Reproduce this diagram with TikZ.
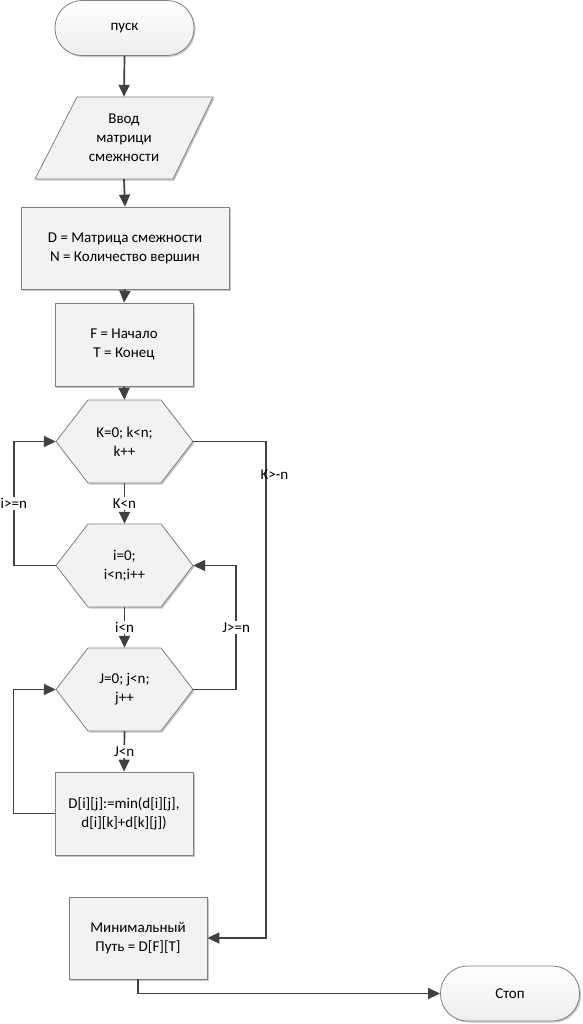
\documentclass[tikz,border=0pt]{standalone}
\usepackage{fontspec}
\setmainfont{Carlito}
\usetikzlibrary{arrows.meta,shadows}
\definecolor{edgecol}{HTML}{808080}
\definecolor{linecol}{HTML}{404040}
\definecolor{boxfill}{HTML}{F2F2F2}
\newcommand\hexshape[2]{%
  \draw[shapestyle] (#1-68.5,#2) -- (#1-36.5,#2-41.5) -- (#1+36.5,#2-41.5) -- (#1+68.5,#2) -- (#1+36.5,#2+41.5) -- (#1-36.5,#2+41.5) -- cycle;}
\begin{document}
\begin{tikzpicture}[x=1bp,y=-1bp,
  every node/.style={font=\fontsize{15bp}{19bp}\selectfont, text=black},
  shd/.style={drop shadow={shadow xshift=1.5bp, shadow yshift=-1.5bp, opacity=0.22, fill=black}},
  shapestyle/.style={draw=edgecol, line width=0.8bp, fill=boxfill, shd},
  proc/.style={draw=edgecol, line width=0.8bp, fill=boxfill, shd, align=center, inner sep=0pt},
  term/.style={draw=edgecol, line width=0.8bp, rounded corners=27bp, top color=white, bottom color=black!7, shd, align=center, inner sep=0pt, minimum width=139bp, minimum height=55bp},
  ghost/.style={align=center, inner sep=0pt},
  conn/.style={draw=linecol, line width=1.7bp, -{Triangle[length=12bp,width=11bp]}},
  lab/.style={fill=white, inner sep=1.5bp}
]
\useasboundingbox (0,0) rectangle (583,1024);

% start
\node[term] (start) at (124.5,28) {пуск};

% input parallelogram
\draw[shapestyle] (77,97) -- (213,97) -- (173,179) -- (35,179) -- cycle;
\node[ghost, minimum width=136bp, minimum height=82bp] (in) at (124,138) {Ввод\\матрици\\смежности};

% process boxes
\node[proc, minimum width=208bp, minimum height=82bp] (b1) at (125,248) {D = Матрица смежности\\N = Количество вершин};
\node[proc, minimum width=138bp, minimum height=83bp] (b2) at (124,344.5) {F = Начало\\T = Конец};

% hexagons
\hexshape{124.5}{441.5}
\node[ghost, minimum width=137bp, minimum height=83bp] (h1) at (124.5,441.5) {K=0; k<n;\\k++};
\hexshape{124.5}{565.5}
\node[ghost, minimum width=137bp, minimum height=83bp] (h2) at (124.5,565.5) {i=0;\\i<n;i++};
\hexshape{124.5}{689.5}
\node[ghost, minimum width=137bp, minimum height=83bp] (h3) at (124.5,689.5) {J=0; j<n;\\j++};

\node[proc, minimum width=138bp, minimum height=83bp] (b3) at (124,813.5) {D[i][j]:=min(d[i][j],\\d[i][k]+d[k][j])};
\node[proc, minimum width=138bp, minimum height=82bp] (b4) at (138,938) {Минимальный\\Путь = D[F][T]};
\node[term] (stop) at (510,993.5) {Стоп};

% main column connectors
\draw[conn] (start.south) -- (in.north);
\draw[conn] (in.south) -- (b1.north);
\draw[conn] (b1.south) -- (b2.north);
\draw[conn] (b2.south) -- (h1.north);
\draw[conn] (h1.south) -- node[lab] {K<n} (h2.north);
\draw[conn] (h2.south) -- node[lab] {i<n} (h3.north);
\draw[conn] (h3.south) -- node[lab] {J<n} (b3.north);

% loops
\draw[conn] (h2.west) -- ++(-42,0) |- node[lab, pos=0.25] {i>=n} (h1.west);
\draw[conn] (h3.east) -- ++(43,0) |- node[lab, pos=0.25] {J>=n} (h2.east);
\draw[conn] (b3.west) -- ++(-41,0) |- (h3.west);

% exit of outer loop
\coordinate (kr) at (266,0);
\draw[conn] (h1.east) -| (kr |- b4.east) -- (b4.east);
\node[ghost] (klab) at (274.5,475) {K>-n};

% to stop
\draw[conn] (b4.south) |- (stop.west);
\end{tikzpicture}
\end{document}
